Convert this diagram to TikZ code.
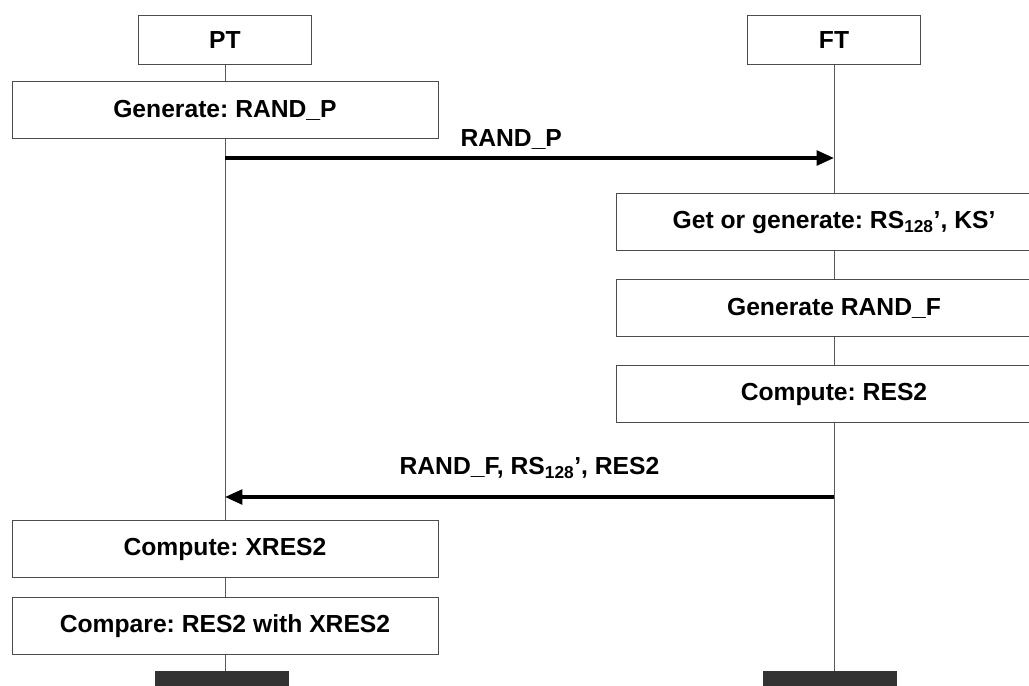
\documentclass[tikz,border=0pt]{standalone}
\usepackage{fontspec}
\setmainfont{Liberation Sans}
\usetikzlibrary{arrows.meta, positioning}

\begin{document}
\frenchspacing
\begin{tikzpicture}[x=0.75pt, y=-0.75pt,
    font=\bfseries\fontsize{18.5}{22}\selectfont,
    entity/.style={draw=black!70, line width=0.7pt, fill=white, minimum width=130pt, minimum height=37pt, inner sep=0pt},
    action/.style={draw=black!70, line width=0.7pt, fill=white, minimum width=319.5pt, minimum height=43pt, inner sep=0pt},
    lifeline/.style={draw=black!65, line width=0.6pt},
    msg/.style={line width=2.6pt, -{Triangle[length=13pt, width=11pt]}},
    stopbar/.style={fill=black!80, draw=black!80, minimum width=100pt, minimum height=30pt, inner sep=0pt}]
  \useasboundingbox (0,0) rectangle (1029,686);
  \clip (0,0) rectangle (1029,686);

  % entities
  \node[entity] (pt) at (225, 40) {PT};
  \node[entity] (ft) at (834, 40) {FT};

  % PT side
  \node[action] (genp)  at (225, 110) {Generate: RAND\_P};
  \node[action] (cxres) at (225, 549) {Compute: XRES2};
  \node[action] (cmp)   at (225, 626) {Compare: RES2 with XRES2};
  \node[stopbar] (ptend) at (222, 691) {};

  % FT side
  \node[action, minimum width=327pt] (getks) at (834, 222) {Get or generate: RS\textsubscript{128}’, KS’};
  \node[action, minimum width=327pt] (genf)  at (834, 308) {Generate RAND\_F};
  \node[action, minimum width=327pt] (cres)  at (834, 394) {Compute: RES2};
  \node[stopbar] (ftend) at (830, 691) {};

  % lifelines
  \draw[lifeline] (pt) -- (genp) -- (cxres) -- (cmp) -- (ptend.north -| pt);
  \draw[lifeline] (ft) -- (getks) -- (genf) -- (cres) -- (ftend.north -| ft);

  % messages
  \coordinate (p1) at (genp.south |- 0,158);
  \coordinate (f1) at (ft.south |- 0,158);
  \coordinate (p2) at (genp.south |- 0,497);
  \coordinate (f2) at (ft.south |- 0,497);
  \draw[msg] (p1) -- node[above=2pt, pos=0.47] {RAND\_P} (f1);
  \draw[msg] (f2) -- node[above=9pt, pos=0.5] {RAND\_F, RS\textsubscript{128}’, RES2} (p2);
\end{tikzpicture}
\end{document}
